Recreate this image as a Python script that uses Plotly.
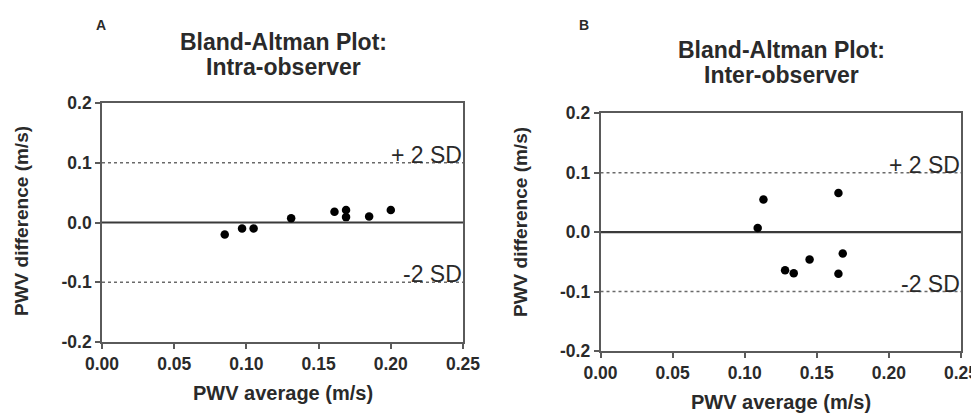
import plotly.graph_objects as go

# ---- data ----
intra_avg = [0.085, 0.097, 0.105, 0.131, 0.161, 0.169, 0.169, 0.185, 0.200]
intra_diff = [-0.020, -0.010, -0.010, 0.007, 0.018, 0.021, 0.009, 0.010, 0.021]
inter_avg = [0.113, 0.165, 0.109, 0.168, 0.145, 0.128, 0.134, 0.165]
inter_diff = [0.055, 0.066, 0.007, -0.036, -0.046, -0.064, -0.069, -0.070]
mean_diff = 0.0
upper_sd = 0.1
lower_sd = -0.1
x_limits = [0.0, 0.25]
y_limits = [-0.2, 0.2]
x_ticks = [0.00, 0.05, 0.10, 0.15, 0.20, 0.25]
y_ticks = [-0.2, -0.1, 0.0, 0.1, 0.2]
panel_letters = ["A", "B"]
title_line1 = ["Bland-Altman Plot:", "Bland-Altman Plot:"]
title_line2 = ["Intra-observer", "Inter-observer"]
x_title = "PWV average (m/s)"
y_title = "PWV difference (m/s)"

# page body has an 8px margin; figure sized to fill the rest of the window
OFF = 8
W, H = 979 - OFF, 414 - OFF

def px(x):
    return (x - OFF) / W

def py(y):
    return 1 - (y - OFF) / H

FONT = "Liberation Sans, Arial, sans-serif"
TXT = "#2a2a2a"
AX = "#5a5a5a"

fig = go.Figure()

panels = [
    dict(xd=[px(102), px(463)], yd=[py(342), py(103)], avg=intra_avg, diff=intra_diff,
         xa="x", ya="y", letter=(101, 25), title=(283, 42, 67), xt=(283, 393), yt=(21, 221)),
    dict(xd=[px(600.5), px(961)], yd=[py(351), py(113.3)], avg=inter_avg, diff=inter_diff,
         xa="x2", ya="y2", letter=(584, 25), title=(781, 50, 75), xt=(781, 402), yt=(520, 222)),
]

def paper_text(text, x, y, size, angle=0):
    return dict(text=text, x=px(x), y=py(y), xref="paper", yref="paper",
                xanchor="center", yanchor="middle", showarrow=False, textangle=angle,
                font=dict(family=FONT, size=size, color=TXT))

annotations = []
for i, p in enumerate(panels):
    for val, dash, col, wd in [(upper_sd, "dot", "#6a6a6a", 1.5), (lower_sd, "dot", "#6a6a6a", 1.5),
                               (mean_diff, "solid", "#3a3a3a", 2.2)]:
        fig.add_trace(go.Scatter(x=x_limits, y=[val, val], mode="lines",
                                 line=dict(color=col, width=wd, dash=dash),
                                 xaxis=p["xa"], yaxis=p["ya"], showlegend=False, hoverinfo="skip"))
    fig.add_trace(go.Scatter(x=p["avg"], y=p["diff"], mode="markers",
                             marker=dict(color="black", size=8.5),
                             xaxis=p["xa"], yaxis=p["ya"], showlegend=False))
    ax = "" if i == 0 else "2"
    annotations += [
        dict(text="+ 2 SD", x=x_limits[1], y=upper_sd, xref="x" + ax, yref="y" + ax,
             xanchor="right", yanchor="bottom", yshift=-7, xshift=1, showarrow=False,
             font=dict(family=FONT, size=23, color=TXT)),
        dict(text="-2 SD", x=x_limits[1], y=lower_sd, xref="x" + ax, yref="y" + ax,
             xanchor="right", yanchor="bottom", yshift=-7, xshift=1, showarrow=False,
             font=dict(family=FONT, size=23, color=TXT)),
        paper_text("<b>" + panel_letters[i] + "</b>", p["letter"][0], p["letter"][1], 14),
        paper_text("<b>" + title_line1[i] + "</b>", p["title"][0], p["title"][1], 23),
        paper_text("<b>" + title_line2[i] + "</b>", p["title"][0], p["title"][2], 23),
        paper_text("<b>" + x_title + "</b>", p["xt"][0], p["xt"][1], 20),
        paper_text("<b>" + y_title + "</b>", p["yt"][0], p["yt"][1], 19, angle=-90),
    ]

axis_common = dict(showgrid=False, zeroline=False, showline=True, linecolor=AX, linewidth=1.6,
                   mirror=True, ticks="outside", ticklen=5, tickwidth=1.5, tickcolor=AX,
                   automargin=False,
                   tickfont=dict(family=FONT, size=17.5, color=TXT, weight="bold"))

layout = dict(
    template="none",
    width=W, height=H, margin=dict(l=0, r=0, t=0, b=0),
    paper_bgcolor="white", plot_bgcolor="white",
    annotations=annotations,
)
for i, p in enumerate(panels):
    sfx = "" if i == 0 else "2"
    layout["xaxis" + sfx] = dict(domain=p["xd"], range=x_limits, tickvals=x_ticks,
                                  ticktext=["%.2f" % v for v in x_ticks],
                                  anchor="y" + sfx, **axis_common)
    layout["yaxis" + sfx] = dict(domain=p["yd"], range=y_limits, tickvals=y_ticks,
                                  ticktext=["%.1f" % v for v in y_ticks],
                                  anchor="x" + sfx, **axis_common)

fig.update_layout(**layout)
fig.write_html("out.html")
